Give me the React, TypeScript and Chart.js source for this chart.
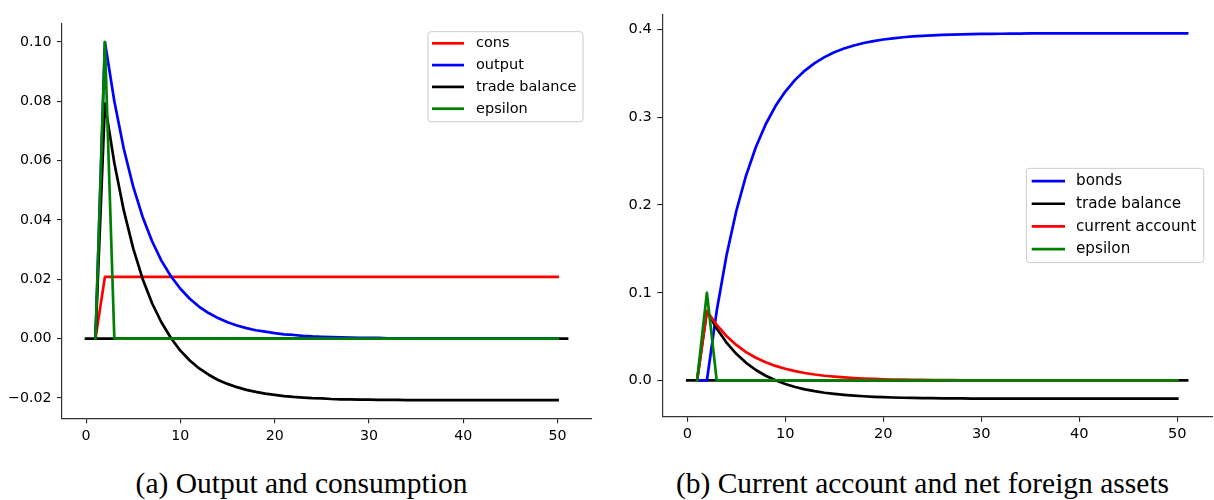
import React, { useEffect, useRef } from 'react';
import { Chart, registerables } from 'chart.js';

Chart.register(...registerables);

// ---------- data ----------
const periods = [
  1, 2, 3, 4, 5, 6, 7, 8, 9, 10, 11, 12, 13, 14, 15, 16, 17, 18, 19, 20, 21, 22, 23, 24, 25,
  26, 27, 28, 29, 30, 31, 32, 33, 34, 35, 36, 37, 38, 39, 40, 41, 42, 43, 44, 45, 46, 47, 48, 49, 50,
];
const bondPeriods = [
  1, 2, 3, 4, 5, 6, 7, 8, 9, 10, 11, 12, 13, 14, 15, 16, 17, 18, 19, 20, 21, 22, 23, 24, 25,
  26, 27, 28, 29, 30, 31, 32, 33, 34, 35, 36, 37, 38, 39, 40, 41, 42, 43, 44, 45, 46, 47, 48, 49, 50, 51,
];
const zeroLineX = [0, 51];
const zeroLineY = [0, 0];

const cons = [
  0, 0.0208, 0.0208, 0.0208, 0.0208, 0.0208, 0.0208, 0.0208, 0.0208, 0.0208,
  0.0208, 0.0208, 0.0208, 0.0208, 0.0208, 0.0208, 0.0208, 0.0208, 0.0208, 0.0208,
  0.0208, 0.0208, 0.0208, 0.0208, 0.0208, 0.0208, 0.0208, 0.0208, 0.0208, 0.0208,
  0.0208, 0.0208, 0.0208, 0.0208, 0.0208, 0.0208, 0.0208, 0.0208, 0.0208, 0.0208,
  0.0208, 0.0208, 0.0208, 0.0208, 0.0208, 0.0208, 0.0208, 0.0208, 0.0208, 0.0208,
];
const output = [
  0, 0.1, 0.08, 0.064, 0.0512, 0.041, 0.0328, 0.0262, 0.021, 0.0168,
  0.0134, 0.0107, 0.0086, 0.0069, 0.0055, 0.0044, 0.0035, 0.0028, 0.0023, 0.0018,
  0.0014, 0.0012, 0.0009, 0.0007, 0.0006, 0.0005, 0.0004, 0.0003, 0.0002, 0.0002,
  0.0002, 0.0001, 0.0001, 0.0001, 0.0001, 0, 0, 0, 0, 0,
  0, 0, 0, 0, 0, 0, 0, 0, 0, 0,
];
const tradeBalance = [
  0, 0.0792, 0.0592, 0.0432, 0.0304, 0.0201, 0.0119, 0.0054, 0.0002, -0.0041,
  -0.0074, -0.0101, -0.0122, -0.014, -0.0153, -0.0164, -0.0173, -0.018, -0.0186, -0.019,
  -0.0194, -0.0197, -0.0199, -0.0201, -0.0202, -0.0204, -0.0205, -0.0205, -0.0206, -0.0206,
  -0.0207, -0.0207, -0.0207, -0.0208, -0.0208, -0.0208, -0.0208, -0.0208, -0.0208, -0.0208,
  -0.0208, -0.0208, -0.0208, -0.0208, -0.0208, -0.0208, -0.0208, -0.0208, -0.0208, -0.0208,
];
const epsilon = [
  0, 0.1, 0, 0, 0, 0, 0, 0, 0, 0,
  0, 0, 0, 0, 0, 0, 0, 0, 0, 0,
  0, 0, 0, 0, 0, 0, 0, 0, 0, 0,
  0, 0, 0, 0, 0, 0, 0, 0, 0, 0,
  0, 0, 0, 0, 0, 0, 0, 0, 0, 0,
];
const bonds = [
  0, 0, 0.0792, 0.1425, 0.1932, 0.2337, 0.2661, 0.2921, 0.3128, 0.3294,
  0.3427, 0.3533, 0.3618, 0.3686, 0.3741, 0.3784, 0.3819, 0.3847, 0.3869, 0.3887,
  0.3901, 0.3913, 0.3922, 0.3929, 0.3935, 0.394, 0.3943, 0.3946, 0.3949, 0.3951,
  0.3952, 0.3953, 0.3954, 0.3955, 0.3956, 0.3956, 0.3957, 0.3957, 0.3957, 0.3957,
  0.3958, 0.3958, 0.3958, 0.3958, 0.3958, 0.3958, 0.3958, 0.3958, 0.3958, 0.3958, 0.3958,
];
const currentAccount = [
  0, 0.0792, 0.0633, 0.0507, 0.0405, 0.0324, 0.0259, 0.0208, 0.0166, 0.0133,
  0.0106, 0.0085, 0.0068, 0.0054, 0.0044, 0.0035, 0.0028, 0.0022, 0.0018, 0.0014,
  0.0011, 0.0009, 0.0007, 0.0006, 0.0005, 0.0004, 0.0003, 0.0002, 0.0002, 0.0002,
  0.0001, 0.0001, 0.0001, 0.0001, 0.0001, 0, 0, 0, 0, 0,
  0, 0, 0, 0, 0, 0, 0, 0, 0, 0,
];

const xTicks = [0, 10, 20, 30, 40, 50];
const xTickLabels = ['0', '10', '20', '30', '40', '50'];
const leftYTicks = [-0.02, 0, 0.02, 0.04, 0.06, 0.08, 0.1];
const leftYTickLabels = ['\u22120.02', '0.00', '0.02', '0.04', '0.06', '0.08', '0.10'];
const rightYTicks = [0, 0.1, 0.2, 0.3, 0.4];
const rightYTickLabels = ['0.0', '0.1', '0.2', '0.3', '0.4'];

const captionLeft = '(a) Output and consumption';
const captionRight = '(b) Current account and net foreign assets';

// ---------- helpers ----------
const RED = '#ff0000';
const BLUE = '#0000ff';
const BLACK = '#000000';
const GREEN = '#008000';
const FONT = "'DejaVu Sans', sans-serif";
const LINE_W = 2.7;

function pts(xs: number[], ys: number[]) {
  return xs.map((x, i) => ({ x, y: ys[i] }));
}

function line(label: string, xs: number[], ys: number[], color: string, order: number) {
  return {
    label,
    data: pts(xs, ys),
    borderColor: color,
    backgroundColor: color,
    borderWidth: LINE_W,
    pointRadius: 0,
    pointHoverRadius: 0,
    tension: 0,
    fill: false,
    borderCapStyle: 'square',
    borderJoinStyle: 'round',
    order,
  };
}

const mplLegend = {
  id: 'mplLegend',
  afterDatasetsDraw(chart: any, _args: any, opts: any) {
    if (!opts || !opts.items) return;
    const { ctx, chartArea } = chart;
    const w = opts.width;
    const h = opts.height;
    const x0 = chartArea.right - opts.right - w;
    const y0 =
      opts.top != null ? chartArea.top + opts.top : (chartArea.top + chartArea.bottom) / 2 - h / 2;
    ctx.save();
    ctx.beginPath();
    ctx.roundRect(x0, y0, w, h, 3);
    ctx.fillStyle = 'rgba(255,255,255,0.8)';
    ctx.fill();
    ctx.strokeStyle = '#cccccc';
    ctx.lineWidth = 1;
    ctx.stroke();
    ctx.font = `${opts.fontSize}px ${FONT}`;
    ctx.textAlign = 'left';
    ctx.textBaseline = 'alphabetic';
    opts.items.forEach((di: number, i: number) => {
      const ds = chart.data.datasets[di];
      const cy = y0 + opts.firstRow + i * opts.rowStep;
      ctx.beginPath();
      ctx.strokeStyle = ds.borderColor;
      ctx.lineWidth = ds.borderWidth;
      ctx.lineCap = 'butt';
      ctx.moveTo(x0 + opts.handleLeft, cy);
      ctx.lineTo(x0 + opts.handleLeft + opts.handleLen, cy);
      ctx.stroke();
      ctx.fillStyle = '#000';
      ctx.fillText(ds.label, x0 + opts.textLeft, cy + 0.273 * opts.fontSize);
    });
    ctx.restore();
  },
};

function buildConfig(p: any) {
  const tickGrid = {
    display: true,
    drawOnChartArea: false,
    drawTicks: true,
    tickLength: 5,
    color: '#222',
    lineWidth: 1.1,
  };
  const border = { display: true, color: '#333', width: 1.2 };
  return {
    type: 'line',
    data: { datasets: p.datasets },
    options: {
      animation: false,
      responsive: false,
      maintainAspectRatio: false,
      devicePixelRatio: 1,
      events: [],
      layout: {
        padding: { top: p.area.top, left: 0, right: p.width - p.area.right, bottom: 0 },
      },
      plugins: {
        legend: { display: false },
        tooltip: { enabled: false },
        title: { display: false },
        mplLegend: p.legend,
      },
      scales: {
        x: {
          type: 'linear',
          min: -2.55,
          max: 53.55,
          grid: tickGrid,
          border,
          afterBuildTicks: (s: any) => {
            s.ticks = xTicks.map((v) => ({ value: v }));
          },
          afterFit: (s: any) => {
            s.height = p.height - p.area.bottom;
          },
          ticks: {
            autoSkip: false,
            maxRotation: 0,
            padding: p.xPad,
            color: '#000',
            font: { family: FONT, size: p.fontSize },
            callback: (v: number) => {
              const i = xTicks.findIndex((t) => Math.abs(t - v) < 1e-9);
              return i >= 0 ? xTickLabels[i] : '';
            },
          },
        },
        y: {
          type: 'linear',
          min: p.yMin,
          max: p.yMax,
          grid: tickGrid,
          border,
          afterBuildTicks: (s: any) => {
            s.ticks = p.yTicks.map((v: number) => ({ value: v }));
          },
          afterFit: (s: any) => {
            s.width = p.area.left;
          },
          ticks: {
            autoSkip: false,
            padding: 5.5,
            color: '#000',
            font: { family: FONT, size: p.fontSize },
            callback: (v: number) => {
              const i = p.yTicks.findIndex((t: number) => Math.abs(t - v) < 1e-9);
              return i >= 0 ? p.yTickLabels[i] : '';
            },
          },
        },
      },
    },
    plugins: [mplLegend],
  };
}

const captionStyle = (center: number): React.CSSProperties => ({
  position: 'absolute',
  left: center - 300,
  width: 600,
  top: 467.6,
  textAlign: 'center',
  fontFamily: "'Liberation Serif', serif",
  fontSize: 29.5,
  lineHeight: '30px',
  color: '#000',
  whiteSpace: 'nowrap',
});

export default function App() {
  const leftRef = useRef<HTMLCanvasElement>(null);
  const rightRef = useRef<HTMLCanvasElement>(null);

  useEffect(() => {
    const leftCfg = buildConfig({
      width: 610,
      height: 450,
      area: { left: 62, top: 23.3, right: 591.1, bottom: 418.3 },
      yMin: -0.0269,
      yMax: 0.1063,
      yTicks: leftYTicks,
      yTickLabels: leftYTickLabels,
      fontSize: 14.2,
      xPad: 5,
      datasets: [
        line('', zeroLineX, zeroLineY, BLACK, 10),
        line('cons', periods, cons, RED, 4),
        line('output', periods, output, BLUE, 3),
        line('trade balance', periods, tradeBalance, BLACK, 2),
        line('epsilon', periods, epsilon, GREEN, 1),
      ],
      legend: {
        items: [1, 2, 3, 4],
        right: 8.1,
        top: 8.4,
        width: 155,
        height: 90,
        firstRow: 11.6,
        rowStep: 21.8,
        handleLeft: 4,
        handleLen: 32,
        textLeft: 48,
        fontSize: 14.5,
      },
    });
    const rightCfg = buildConfig({
      width: 602,
      height: 450,
      area: { left: 50.3, top: 7, right: 600.1, bottom: 416.7 },
      yMin: -0.0413,
      yMax: 0.4175,
      yTicks: rightYTicks,
      yTickLabels: rightYTickLabels,
      fontSize: 14.6,
      xPad: 4,
      datasets: [
        line('', zeroLineX, zeroLineY, BLACK, 10),
        line('bonds', bondPeriods, bonds, BLUE, 4),
        line('trade balance', periods, tradeBalance, BLACK, 3),
        line('current account', periods, currentAccount, RED, 2),
        line('epsilon', periods, epsilon, GREEN, 1),
      ],
      legend: {
        items: [1, 2, 3, 4],
        right: 8.4,
        top: null,
        width: 177.3,
        height: 94.3,
        firstRow: 12.7,
        rowStep: 22.7,
        handleLeft: 5.3,
        handleLen: 33.3,
        textLeft: 49.6,
        fontSize: 15.2,
      },
    });
    const c1 = new Chart(leftRef.current as HTMLCanvasElement, leftCfg as any);
    const c2 = new Chart(rightRef.current as HTMLCanvasElement, rightCfg as any);
    return () => {
      c1.destroy();
      c2.destroy();
    };
  }, []);

  return (
    <div
      style={{
        position: 'absolute',
        left: 0,
        top: 0,
        width: 1214,
        height: 500,
        background: '#fff',
        overflow: 'hidden',
      }}
    >
      <canvas
        ref={leftRef}
        width={610}
        height={450}
        style={{ position: 'absolute', left: 0, top: 0, width: 610, height: 450 }}
      />
      <canvas
        ref={rightRef}
        width={602}
        height={450}
        style={{ position: 'absolute', left: 612, top: 0, width: 602, height: 450 }}
      />
      <div style={captionStyle(301.5)}>{captionLeft}</div>
      <div style={captionStyle(922.5)}>{captionRight}</div>
    </div>
  );
}
